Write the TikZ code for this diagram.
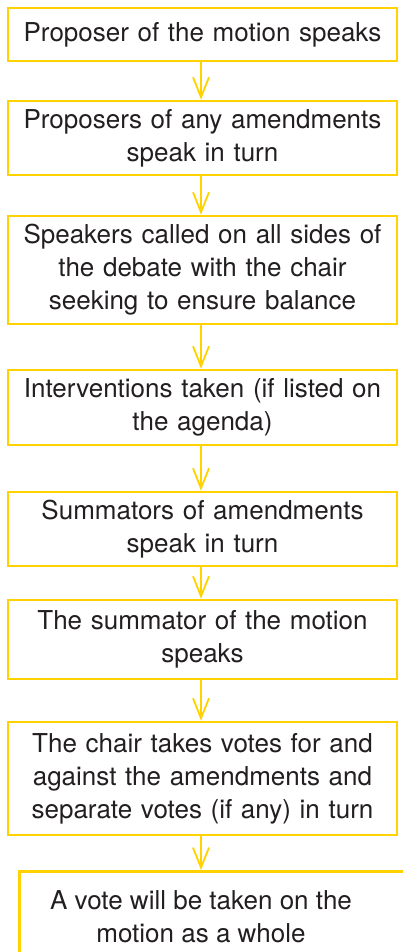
\documentclass[tikz,border=0pt]{standalone}
\usepackage{fontspec}
\setmainfont{TeX Gyre Heros}
\usetikzlibrary{arrows.meta}
\definecolor{flowyellow}{RGB}{255,210,0}
\definecolor{flowtext}{RGB}{35,31,32}
\tikzset{
  flowbox/.style={draw=flowyellow, line width=2.6pt, fill=white, minimum width=389pt,
    text width=380pt, align=center, inner sep=0pt, text=flowtext,
    font=\fontsize{26}{33}\selectfont},
  flowtxt/.style={align=center, inner sep=0pt, text=flowtext,
    font=\fontsize{26}{33}\selectfont},
  flowarrow/.style={draw=flowyellow, line width=2pt,
    -{Straight Barb[length=20pt,width=16pt,line width=1.8pt]}}
}
\begin{document}
\begin{tikzpicture}[x=1pt,y=-1pt]
\useasboundingbox (0,0) rectangle (403,952);
\clip (0,0) rectangle (403,952);
\node[flowbox, minimum height=53pt] (b1) at (202.5,34.5) {Proposer of the motion speaks};
\node[flowbox, minimum height=74pt] (b2) at (202.5,138) {Proposers of any amendments\\speak in turn};
\node[flowbox, minimum height=108pt] (b3) at (202.5,270) {Speakers called on all sides of\\the debate with the chair\\seeking to ensure balance};
\node[flowbox, minimum height=75pt] (b4) at (202.5,407.5) {Interventions taken (if listed on\\the agenda)};
\node[flowbox, minimum height=74pt] (b5) at (202.5,529) {Summators of amendments\\speak in turn};
\node[flowbox, minimum height=79pt] (b6) at (202.5,639.5) {The summator of the motion\\speaks};
\node[flowbox, minimum height=113pt] (b7) at (202.5,778.5) {The chair takes votes for and\\against the amendments and\\separate votes (if any) in turn};
\node[flowbox, anchor=north west, minimum width=440pt, text width=430pt, minimum height=140pt] (b8) at (18,870) {};
\node[flowtxt] (t8) at (201,917) {A vote will be taken on the\\motion as a whole};
\draw[flowarrow] ([xshift=-1.5pt]b1.south) -- ([xshift=-1.5pt]b2.north);
\draw[flowarrow] ([xshift=-1.5pt]b2.south) -- ([xshift=-1.5pt]b3.north);
\draw[flowarrow] ([xshift=-1.5pt]b3.south) -- ([xshift=-1.5pt]b4.north);
\draw[flowarrow] ([xshift=-1.5pt]b4.south) -- ([xshift=-1.5pt]b5.north);
\draw[flowarrow] ([xshift=-1.5pt]b5.south) -- ([xshift=-1.5pt]b6.north);
\draw[flowarrow] ([xshift=-1.5pt]b6.south) -- ([xshift=-1.5pt]b7.north);
\draw[flowarrow] ([xshift=-1.5pt]b7.south) -- ([xshift=-1.5pt]b7.south |- b8.north);
\end{tikzpicture}
\end{document}
